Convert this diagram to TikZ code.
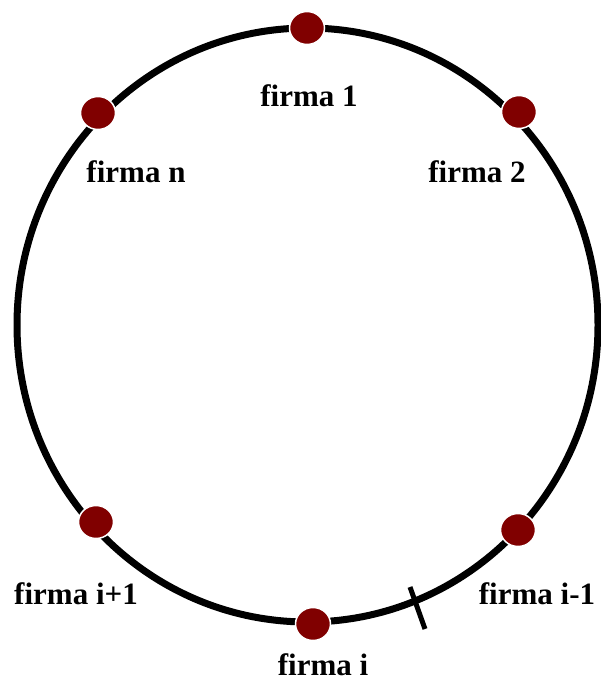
\documentclass[tikz,border=0pt]{standalone}
\usepackage{fontspec}
\setmainfont{Liberation Serif}
\usetikzlibrary{shapes.geometric}
\definecolor{dotred}{HTML}{800000}
\begin{document}
\begin{tikzpicture}[x=1pt,y=-1pt,
  firm/.style={ellipse,fill=dotred,draw=white,line width=1.5pt,minimum width=35pt,minimum height=33pt,inner sep=0pt},
  lbl/.style={font=\fontsize{31}{37}\bfseries\selectfont,inner sep=0pt}]
\useasboundingbox (0,0) rectangle (600,682);
\draw[line width=7pt] (307.5,325) ellipse [x radius=290.5, y radius=297];
\coordinate (t1) at (410,587);
\coordinate (t2) at (425,629);
\draw[line width=5pt] (t1) -- (t2);
\node[firm] (f1) at (307,28) {};
\node[firm] (f2) at (519,112) {};
\node[firm] (fn) at (98,113) {};
\node[firm] (fip) at (96,522) {};
\node[firm] (fi) at (313,624) {};
\node[firm] (fim) at (518,530) {};
\node[lbl] (l1) at (309,96) {firma 1};
\node[lbl] (l2) at (477,172) {firma 2};
\node[lbl] (ln) at (136,172) {firma n};
\node[lbl] (lip) at (76,594) {firma i+1};
\node[lbl] (lim) at (537,594) {firma i-1};
\node[lbl] (li) at (323,665) {firma i};
\end{tikzpicture}
\end{document}
